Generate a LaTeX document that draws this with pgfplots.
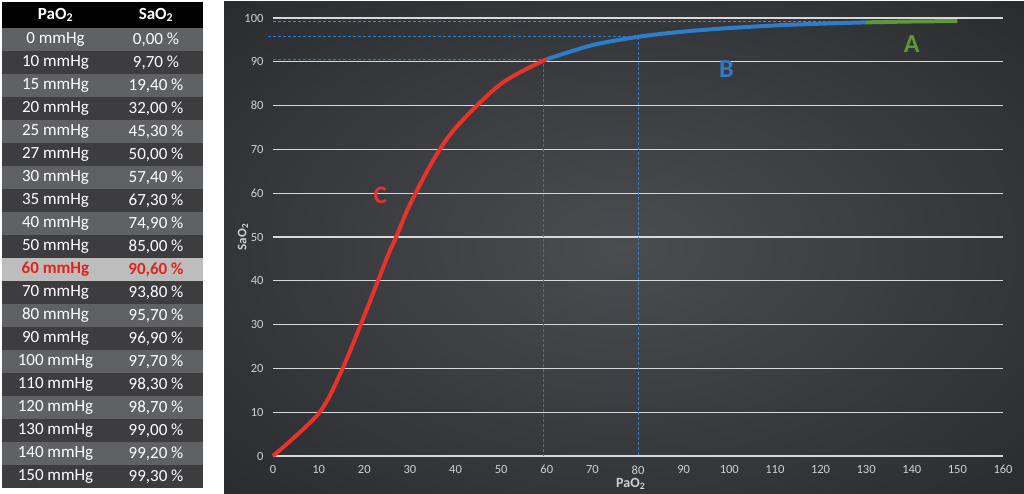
\documentclass[border=0pt]{standalone}
\usepackage{fontspec}
\setmainfont{Carlito}
\usepackage{pgfplots}
\usepackage{pgfplotstable}
\pgfplotsset{compat=1.18}

\definecolor{rowlight}{HTML}{606163}
\definecolor{rowdark}{HTML}{3D3D3F}
\definecolor{hl}{HTML}{BDBDBD}
\definecolor{redtxt}{HTML}{E2231A}
\definecolor{bgin}{HTML}{4A4C4F}
\definecolor{bgout}{HTML}{1C1E21}
\definecolor{gridc}{HTML}{D8D8D8}
\definecolor{tickc}{HTML}{D0D0D0}
\definecolor{cred}{HTML}{E8322B}
\definecolor{cblue}{HTML}{2E7DC9}
\definecolor{cgreen}{HTML}{5A9A3C}

\pgfdeclareradialshading{bgshade}{\pgfpoint{0bp}{0bp}}{color(0bp)=(bgin); color(50bp)=(bgout)}

\pgfplotstableread{
x y
0 0
10 9.7
15 19.4
20 32
25 45.3
27 50
30 57.4
35 67.3
40 74.9
50 85
60 90.6
}\redtab
\pgfplotstableread{
x y
60 90.6
70 93.8
80 95.7
90 96.9
100 97.7
110 98.3
120 98.7
130 99.0
}\bluetab
\pgfplotstableread{
x y
130 99.0
140 99.2
150 99.3
}\greentab

\begin{document}
\begin{tikzpicture}
\begin{scope}[x=1pt,y=-1pt,shift={(0pt,494pt)}]
  \fill[white] (0,0) rectangle (1024,494);
  % table
  \fill[black] (2,2) rectangle (203,28);
  \node[text=white,font=\bfseries\fontsize{17}{18}\selectfont] at (55.5,15) {PaO\textsubscript{2}};
  \node[text=white,font=\bfseries\fontsize{17}{18}\selectfont] at (156,15) {SaO\textsubscript{2}};
  \foreach \p/\s [count=\i from 0] in {0/{0,00},10/{9,70},15/{19,40},20/{32,00},25/{45,30},27/{50,00},30/{57,40},35/{67,30},40/{74,90},50/{85,00},60/{90,60},70/{93,80},80/{95,70},90/{96,90},100/{97,70},110/{98,30},120/{98,70},130/{99,00},140/{99,20},150/{99,30}}{
    \pgfmathsetmacro\yt{28+23.0*\i}
    \pgfmathsetmacro\yc{\yt+11.5}
    \ifnum\i=10 \def\rc{hl}\def\tc{redtxt}\def\tf{\bfseries}\else
      \ifodd\i \def\rc{rowdark}\else\def\rc{rowlight}\fi
      \def\tc{white}\def\tf{}\fi
    \fill[\rc] (2,\yt) rectangle (203,\yt+23.0);
    \node[text=\tc,font=\tf\fontsize{17}{18}\selectfont] at (55.5,\yc) {\p~mmHg};
    \node[text=\tc,font=\tf\fontsize{17}{18}\selectfont] at (156,\yc) {\s~\%};
  }
  % chart panel
  \shade[shading=bgshade] (224,2) rectangle (1024,494);
\end{scope}

\begin{axis}[
  at={(273pt,38pt)}, anchor=south west,
  scale only axis, width=730pt, height=438pt,
  xmin=0, xmax=160, ymin=0, ymax=100,
  xtick={0,10,...,160}, ytick={0,10,...,100},
  axis line style={draw=none},
  major tick length=0pt,
  ymajorgrids,
  grid style={color=gridc, line width=1.2pt},
  tick label style={font=\fontsize{12.5}{14}\selectfont, text=tickc},
  /pgf/number format/assume math mode=true,
  yticklabel style={xshift=-6pt},
  xticklabel style={yshift=-6pt},
  clip=false,
  xlabel={PaO\textsubscript{2}},
  xlabel style={font=\bfseries\fontsize{14}{15}\selectfont, text=tickc, at={(axis description cs:0.49,0)}, anchor=center, yshift=-28pt},
  ylabel={SaO\textsubscript{2}},
  ylabel style={font=\bfseries\fontsize{13}{14}\selectfont, text=tickc, at={(axis description cs:0,0.5)}, anchor=center, yshift=30pt},
]
  \addplot[cred, line width=0.9pt, dash pattern=on 3pt off 2pt] coordinates {(0,90.6) (59.2,90.6) (59.2,0)};
  \addplot[cblue, line width=0.9pt, dash pattern=on 3pt off 2pt] coordinates {(-1,95.7) (80,95.7) (80,0)};
  \addplot[cgreen, line width=0.9pt, dash pattern=on 3pt off 2pt] coordinates {(0,99.1) (130,99.1)};
  \addplot[cred, line width=4pt, smooth] table[x=x,y=y] {\redtab};
  \addplot[cblue, line width=4pt, smooth] table[x=x,y=y] {\bluetab};
  \addplot[cgreen, line width=4pt, smooth] table[x=x,y=y] {\greentab};
  \node[text=cred, font=\bfseries\fontsize{25}{25}\selectfont] at (axis cs:23.5,59.5) {C};
  \node[text=cblue, font=\bfseries\fontsize{26}{26}\selectfont] at (axis cs:99.4,88.4) {B};
  \node[text=cgreen, font=\bfseries\fontsize{26}{26}\selectfont] at (axis cs:140,94) {A};
\end{axis}
\end{tikzpicture}
\end{document}
